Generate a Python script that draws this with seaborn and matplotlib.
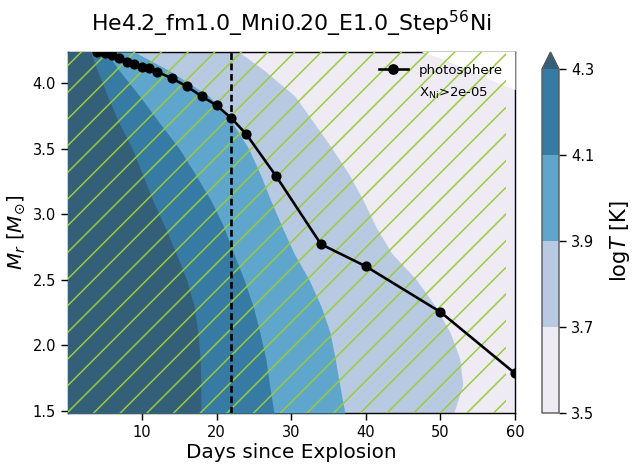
import numpy as np
import matplotlib
matplotlib.use("Agg")
import matplotlib.pyplot as plt
import seaborn as sns
import pandas as pd
from matplotlib.colors import ListedColormap, BoundaryNorm
from matplotlib.cm import ScalarMappable
from matplotlib.lines import Line2D
from matplotlib.patches import Patch

# ---------------- data ----------------
title = r"He4.2_fm1.0_Mni0.20_E1.0_Step$^{56}$Ni"

levels = [3.5, 3.7, 3.9, 4.1, 4.3]
band_colors = ["#efebf4", "#b8cae2", "#5ea6cc", "#367ba4"]
over_color = "#345f79"

# mass coordinates (Msun) at which the logT contour boundaries were read
mass_grid = [4.236, 4.1, 3.9, 3.7, 3.5, 3.3, 3.1, 2.9, 2.7, 2.5, 2.3, 2.1, 1.9, 1.7, 1.485]
# time (days) of each logT contour at those masses
t_logT_4p3 = [3.1, 4.0, 5.4, 6.9, 8.7, 10.1, 11.5, 13.1, 14.6, 16.0, 17.0, 17.5, 17.8, 17.9, 17.9]
t_logT_4p1 = [5.2, 6.9, 9.7, 12.3, 15.0, 17.2, 19.3, 21.0, 22.3, 23.7, 24.9, 25.8, 26.6, 27.1, 27.7]
t_logT_3p9 = [9.0, 13.5, 19.0, 22.1, 24.3, 25.9, 27.3, 28.8, 30.4, 32.4, 34.0, 35.2, 35.9, 36.5, 37.2]
t_logT_3p7 = [23.0, 26.3, 30.5, 33.0, 35.5, 37.8, 39.7, 41.4, 43.5, 46.8, 49.3, 51.3, 52.6, 53.0, 51.8]

# upper edge of the model grid at late times (no data above)
edge_t = [47.5, 50.0, 53.0, 56.5, 60.0]
edge_m = [4.236, 4.19, 4.12, 4.03, 3.95]

# X_Ni > 2e-05 region extent (days)
ni_t_end = 58.8

# photosphere
photo_t = [4, 5, 6, 7, 8, 9, 10, 11, 12, 14, 16, 18, 20, 22, 24, 28, 34, 40, 50, 60]
photo_m = [4.239, 4.225, 4.211, 4.193, 4.161, 4.143, 4.124, 4.112, 4.086, 4.036,
           3.975, 3.899, 3.830, 3.731, 3.609, 3.289, 2.771, 2.603, 2.255, 1.787]

t_mark = 22.0

xlim = (0.1, 60.0)
ylim = (1.485, 4.236)

# ---------------- figure ----------------
dpi = 160
W, H = 642, 469


def P(px):
    """pixels -> points at the figure dpi"""
    return px * 72.0 / dpi


fig = plt.figure(figsize=(W / dpi, H / dpi), dpi=dpi)
plt.rcParams["hatch.linewidth"] = P(1.5)
plt.rcParams["axes.linewidth"] = P(1.4)

ax = fig.add_axes([68 / W, (H - 413) / H, 447 / W, 361 / H])

m = np.array(mass_grid)
# painter's order: coolest band first, then hotter bands on top
ax.fill_betweenx(m, xlim[0], xlim[1], color=band_colors[0], lw=0, zorder=1)
ax.fill_betweenx(m, xlim[0], t_logT_3p7, color=band_colors[1], lw=0, zorder=2)
ax.fill_betweenx(m, xlim[0], t_logT_3p9, color=band_colors[2], lw=0, zorder=3)
ax.fill_betweenx(m, xlim[0], t_logT_4p1, color=band_colors[3], lw=0, zorder=4)
ax.fill_betweenx(m, xlim[0], t_logT_4p3, color=over_color, lw=0, zorder=5)
ax.fill_between(edge_t, edge_m, ylim[1] + 0.1, color="white", lw=0, zorder=6)

# Ni hatch
ax.fill_between([xlim[0], ni_t_end], ylim[0] - 0.1, ylim[1] + 0.1,
                facecolor="none", edgecolor="yellowgreen", hatch="//", lw=0, zorder=7)

ax.axvline(t_mark, color="black", ls=(0, (2.6, 1.4)), lw=P(2.6), zorder=8)

df = pd.DataFrame({"t": photo_t, "m": photo_m})
sns.lineplot(data=df, x="t", y="m", sort=False, ax=ax, color="black", lw=P(2.6),
             marker="o", markersize=P(8.5), markeredgecolor="black", zorder=9)

ax.set_xlim(*xlim)
ax.set_ylim(*ylim)
ax.set_xlabel("Days since Explosion", fontsize=P(20), labelpad=P(3))
ax.set_ylabel(r"$M_r\ [M_{\odot}]$", fontsize=P(20), labelpad=P(5))
ax.tick_params(labelsize=P(14.6), length=P(7), width=P(1.4), pad=P(5))
ax.set_title(title, fontsize=P(22), pad=P(21))

handles = [Line2D([], [], color="black", lw=P(2.6), marker="o", markersize=P(8.5)),
           Patch(facecolor="none", edgecolor="none")]
labels = ["photosphere", r"X$_{\rm Ni}$>2e-05"]
leg = ax.legend(handles, labels, loc="upper right", frameon=False, fontsize=P(13.2),
                handlelength=2.2, borderaxespad=0.5, labelspacing=0.65,
                handletextpad=0.85)
leg.set_zorder(20)

# colorbar
cax = fig.add_axes([542 / W, (H - 413) / H, 17 / W, 361 / H])
cmap = ListedColormap(band_colors)
cmap.set_over(over_color)
norm = BoundaryNorm(levels, cmap.N)
sm = ScalarMappable(norm=norm, cmap=cmap)
cb = fig.colorbar(sm, cax=cax, extend="max", ticks=levels)
cb.ax.tick_params(labelsize=P(14.6), length=P(7), width=P(1.4), pad=P(5))
cb.outline.set_edgecolor("0.35")
cb.outline.set_linewidth(P(1.4))
cb.set_label(r"log$T$ [K]", fontsize=P(21), labelpad=P(14))

fig.savefig("out.png", dpi=dpi)
